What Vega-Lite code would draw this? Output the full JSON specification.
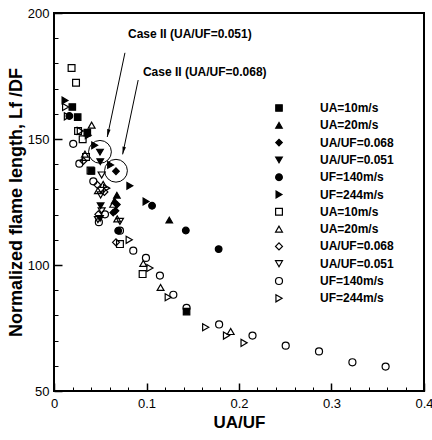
{
  "$schema": "https://vega.github.io/schema/vega-lite/v6.json",
  "width": 370,
  "height": 378,
  "autosize": "none",
  "padding": {"left": 54, "top": 13, "right": 8, "bottom": 49},
  "config": {
    "view": {"stroke": "black", "strokeWidth": 2},
    "font": "Liberation Sans",
    "legend": {
      "orient": "none", "legendX": 219, "legendY": 89, "title": null,
      "labelFont": "Liberation Sans", "labelFontSize": 12, "labelFontWeight": "bold", "labelColor": "black",
      "labelOffset": 35, "rowPadding": 5.3,
      "symbolStrokeColor": "black", "symbolStrokeWidth": 1.2
    }
  },
  "resolve": {"axis": {"x": "independent", "y": "independent"}},
  "datasets": {
    "pts": [
      {"s": "f1", "x": 0.0198, "y": 162.7}, {"s": "f1", "x": 0.0256, "y": 158.7}, {"s": "f1", "x": 0.036, "y": 152.5}, {"s": "f1", "x": 0.0405, "y": 137.3}, {"s": "f1", "x": 0.1433, "y": 81.5},
      {"s": "f2", "x": 0.068, "y": 127.7}, {"s": "f2", "x": 0.0655, "y": 125.5}, {"s": "f2", "x": 0.1246, "y": 117.8},
      {"s": "f3", "x": 0.067, "y": 137.2}, {"s": "f3", "x": 0.068, "y": 124}, {"s": "f3", "x": 0.0665, "y": 121.5}, {"s": "f3", "x": 0.064, "y": 120.8},
      {"s": "f4", "x": 0.0497, "y": 144.8}, {"s": "f4", "x": 0.05, "y": 141}, {"s": "f4", "x": 0.0504, "y": 123.5}, {"s": "f4", "x": 0.0498, "y": 118.5},
      {"s": "f5", "x": 0.0166, "y": 159.1}, {"s": "f5", "x": 0.0694, "y": 113.6}, {"s": "f5", "x": 0.106, "y": 123.5}, {"s": "f5", "x": 0.1425, "y": 113.7}, {"s": "f5", "x": 0.178, "y": 106.3},
      {"s": "f6", "x": 0.0119, "y": 165.3}, {"s": "f6", "x": 0.037, "y": 151.5}, {"s": "f6", "x": 0.044, "y": 147.5}, {"s": "f6", "x": 0.0612, "y": 139.7}, {"s": "f6", "x": 0.082, "y": 131.4}, {"s": "f6", "x": 0.0995, "y": 125.2},
      {"s": "o1", "x": 0.019, "y": 178.2}, {"s": "o1", "x": 0.0238, "y": 172.3}, {"s": "o1", "x": 0.026, "y": 153.2}, {"s": "o1", "x": 0.031, "y": 149.9}, {"s": "o1", "x": 0.0346, "y": 142.9}, {"s": "o1", "x": 0.0395, "y": 137.5}, {"s": "o1", "x": 0.0713, "y": 108.3}, {"s": "o1", "x": 0.0958, "y": 96.4},
      {"s": "o2", "x": 0.0407, "y": 155.5}, {"s": "o2", "x": 0.0335, "y": 144}, {"s": "o2", "x": 0.0532, "y": 132}, {"s": "o2", "x": 0.0475, "y": 129.5}, {"s": "o2", "x": 0.064, "y": 124.1}, {"s": "o2", "x": 0.0684, "y": 118.3}, {"s": "o2", "x": 0.0965, "y": 100.6}, {"s": "o2", "x": 0.1152, "y": 91.1}, {"s": "o2", "x": 0.191, "y": 73.6},
      {"s": "o3", "x": 0.0317, "y": 141.3}, {"s": "o3", "x": 0.0468, "y": 131.8}, {"s": "o3", "x": 0.0479, "y": 120.1}, {"s": "o3", "x": 0.067, "y": 109}, {"s": "o3", "x": 0.0545, "y": 129},
      {"s": "o4", "x": 0.0515, "y": 135.7}, {"s": "o4", "x": 0.0504, "y": 127.8}, {"s": "o4", "x": 0.0515, "y": 121.5}, {"s": "o4", "x": 0.0713, "y": 117.3}, {"s": "o4", "x": 0.0475, "y": 118},
      {"s": "o5", "x": 0.0208, "y": 148.1}, {"s": "o5", "x": 0.0274, "y": 140.2}, {"s": "o5", "x": 0.0425, "y": 133.2}, {"s": "o5", "x": 0.0551, "y": 120.1}, {"s": "o5", "x": 0.0485, "y": 117}, {"s": "o5", "x": 0.0713, "y": 113.6}, {"s": "o5", "x": 0.0857, "y": 105.7}, {"s": "o5", "x": 0.0994, "y": 102.8}, {"s": "o5", "x": 0.1145, "y": 95.8}, {"s": "o5", "x": 0.129, "y": 88.2}, {"s": "o5", "x": 0.1433, "y": 83}, {"s": "o5", "x": 0.1785, "y": 76.4}, {"s": "o5", "x": 0.2146, "y": 72}, {"s": "o5", "x": 0.2505, "y": 68}, {"s": "o5", "x": 0.2865, "y": 65.7}, {"s": "o5", "x": 0.3226, "y": 61.4}, {"s": "o5", "x": 0.3585, "y": 59.7},
      {"s": "o6", "x": 0.0126, "y": 162.7}, {"s": "o6", "x": 0.0145, "y": 159}, {"s": "o6", "x": 0.0285, "y": 153.2}, {"s": "o6", "x": 0.0569, "y": 130.5}, {"s": "o6", "x": 0.0813, "y": 110}, {"s": "o6", "x": 0.1037, "y": 98.8}, {"s": "o6", "x": 0.1235, "y": 87.2}, {"s": "o6", "x": 0.164, "y": 75.3}, {"s": "o6", "x": 0.1865, "y": 72}, {"s": "o6", "x": 0.2055, "y": 69.1}
    ],
    "rings": [
      {"x": 0.0497, "y": 144.9},
      {"x": 0.067, "y": 137.4}
    ],
    "arrows": [
      {"x": 0.0767, "y": 184.2, "x2": 0.0576, "y2": 150.8},
      {"x": 0.091, "y": 173.4, "x2": 0.0742, "y2": 143.9}
    ],
    "notes": [
      {"x": 0.08, "y": 191.6, "t": "Case II (UA/UF=0.051)"},
      {"x": 0.0961, "y": 176.5, "t": "Case II (UA/UF=0.068)"}
    ]
  },
  "layer": [
    {
      "data": {"name": "pts"},
      "mark": {"type": "point", "strokeWidth": 1.2, "opacity": 1},
      "encoding": {
        "x": {
          "field": "x", "type": "quantitative",
          "scale": {"domain": [0, 0.4], "nice": false, "zero": false},
          "axis": {
            "orient": "bottom", "offset": -8,
            "title": "UA/UF",
            "titleFontSize": 17, "titleFontWeight": "bold", "titleColor": "black", "titlePadding": 4,
            "values": [0, 0.1, 0.2, 0.3, 0.4], "format": "~g",
            "labelFontSize": 13, "labelColor": "black", "labelPadding": 6, "labelFlush": false, "labelOverlap": false,
            "domain": false,
            "tickColor": "black", "tickWidth": 1.5, "tickSize": 8,
            "grid": false
          }
        },
        "y": {
          "field": "y", "type": "quantitative",
          "scale": {"domain": [50, 200], "nice": false, "zero": false},
          "axis": {
            "orient": "left", "offset": -8,
            "title": "Normalized flame length, Lf /DF",
            "titleFontSize": 18, "titleFontWeight": "bold", "titleColor": "black", "titlePadding": 2,
            "values": [50, 100, 150, 200],
            "labelFontSize": 13, "labelColor": "black", "labelPadding": 5, "labelFlush": false, "labelOverlap": false,
            "domain": false,
            "tickColor": "black", "tickWidth": 1.5, "tickSize": 8,
            "grid": false
          }
        },
        "shape": {
          "field": "s", "type": "nominal",
          "scale": {
            "domain": ["f1", "f2", "f3", "f4", "f5", "f6", "o1", "o2", "o3", "o4", "o5", "o6"],
            "range": ["square", "triangle-up", "diamond", "triangle-down", "circle", "triangle-right", "square", "triangle-up", "diamond", "triangle-down", "circle", "triangle-right"]
          },
          "legend": {
            "labelExpr": "['UA=10m/s','UA=20m/s','UA/UF=0.068','UA/UF=0.051','UF=140m/s','UF=244m/s','UA=10m/s','UA=20m/s','UA/UF=0.068','UA/UF=0.051','UF=140m/s','UF=244m/s'][indexof(['f1','f2','f3','f4','f5','f6','o1','o2','o3','o4','o5','o6'], datum.label)]"
          }
        },
        "fill": {
          "field": "s", "type": "nominal",
          "scale": {
            "domain": ["f1", "f2", "f3", "f4", "f5", "f6", "o1", "o2", "o3", "o4", "o5", "o6"],
            "range": ["black", "black", "black", "black", "black", "black", "transparent", "transparent", "transparent", "transparent", "transparent", "transparent"]
          },
          "legend": {
            "labelExpr": "['UA=10m/s','UA=20m/s','UA/UF=0.068','UA/UF=0.051','UF=140m/s','UF=244m/s','UA=10m/s','UA=20m/s','UA/UF=0.068','UA/UF=0.051','UF=140m/s','UF=244m/s'][indexof(['f1','f2','f3','f4','f5','f6','o1','o2','o3','o4','o5','o6'], datum.label)]"
          }
        },
        "stroke": {
          "field": "s", "type": "nominal",
          "scale": {
            "domain": ["f1", "f2", "f3", "f4", "f5", "f6", "o1", "o2", "o3", "o4", "o5", "o6"],
            "range": ["black", "black", "black", "black", "black", "black", "black", "black", "black", "black", "black", "black"]
          },
          "legend": {
            "labelExpr": "['UA=10m/s','UA=20m/s','UA/UF=0.068','UA/UF=0.051','UF=140m/s','UF=244m/s','UA=10m/s','UA=20m/s','UA/UF=0.068','UA/UF=0.051','UF=140m/s','UF=244m/s'][indexof(['f1','f2','f3','f4','f5','f6','o1','o2','o3','o4','o5','o6'], datum.label)]"
          }
        },
        "size": {
          "field": "s", "type": "nominal",
          "scale": {
            "domain": ["f1", "f2", "f3", "f4", "f5", "f6", "o1", "o2", "o3", "o4", "o5", "o6"],
            "range": [42, 50, 50, 50, 65, 50, 42, 50, 50, 50, 80, 50]
          },
          "legend": {
            "labelExpr": "['UA=10m/s','UA=20m/s','UA/UF=0.068','UA/UF=0.051','UF=140m/s','UF=244m/s','UA=10m/s','UA=20m/s','UA/UF=0.068','UA/UF=0.051','UF=140m/s','UF=244m/s'][indexof(['f1','f2','f3','f4','f5','f6','o1','o2','o3','o4','o5','o6'], datum.label)]"
          }
        }
      }
    },
    {
      "data": {"name": "rings"},
      "mark": {"type": "point", "shape": "circle", "size": 520, "filled": false, "stroke": "black", "strokeWidth": 1, "opacity": 1},
      "encoding": {
        "x": {
          "field": "x", "type": "quantitative",
          "axis": {
            "orient": "bottom", "offset": -4, "title": null, "labels": false, "domain": false, "grid": false,
            "values": [0.02, 0.04, 0.06, 0.08, 0.12, 0.14, 0.16, 0.18, 0.22, 0.24, 0.26, 0.28, 0.32, 0.34, 0.36, 0.38],
            "tickColor": "black", "tickWidth": 1, "tickSize": 4
          }
        },
        "y": {
          "field": "y", "type": "quantitative",
          "axis": {
            "orient": "left", "offset": -4, "title": null, "labels": false, "domain": false, "grid": false,
            "values": [60, 70, 80, 90, 110, 120, 130, 140, 160, 170, 180, 190],
            "tickColor": "black", "tickWidth": 1, "tickSize": 4
          }
        }
      }
    },
    {
      "data": {"name": "arrows"},
      "mark": {"type": "rule", "color": "black", "strokeWidth": 1},
      "encoding": {
        "x": {"field": "x", "type": "quantitative", "axis": null},
        "y": {"field": "y", "type": "quantitative", "axis": null},
        "x2": {"field": "x2"},
        "y2": {"field": "y2"}
      }
    },
    {
      "data": {"name": "arrows"},
      "mark": {"type": "point", "shape": "M0,0L0.5,2.2L-0.5,2.2Z", "size": 49, "filled": true, "color": "black", "opacity": 1, "angle": 191.8},
      "encoding": {
        "x": {"field": "x2", "type": "quantitative", "axis": null},
        "y": {"field": "y2", "type": "quantitative", "axis": null}
      }
    },
    {
      "data": {"name": "notes"},
      "mark": {"type": "text", "align": "left", "baseline": "middle", "font": "Liberation Sans Narrow, Liberation Sans", "fontSize": 12, "fontWeight": "bold", "color": "black"},
      "encoding": {
        "x": {"field": "x", "type": "quantitative", "axis": null},
        "y": {"field": "y", "type": "quantitative", "axis": null},
        "text": {"field": "t"}
      }
    }
  ]
}
